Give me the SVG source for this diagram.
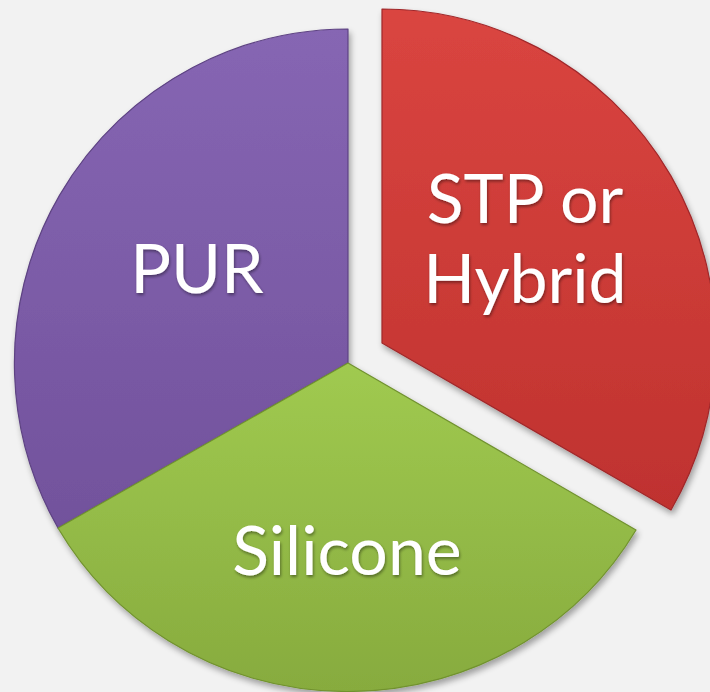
<svg xmlns="http://www.w3.org/2000/svg" width="710" height="692" viewBox="0 0 710 692">
<defs>
<linearGradient id="gp" x1="0" y1="0" x2="0" y2="1">
<stop offset="0" stop-color="#8666b3"/>
<stop offset="1" stop-color="#72529c"/>
</linearGradient>
<linearGradient id="gr" x1="0" y1="0" x2="0" y2="1">
<stop offset="0" stop-color="#da4540"/>
<stop offset="1" stop-color="#bf322f"/>
</linearGradient>
<linearGradient id="gg" x1="0" y1="0" x2="0" y2="1">
<stop offset="0" stop-color="#a0ca50"/>
<stop offset="1" stop-color="#87ab3e"/>
</linearGradient>
<filter id="sh" x="-10%" y="-10%" width="120%" height="120%">
<feGaussianBlur in="SourceAlpha" stdDeviation="3"/>
<feOffset dx="2" dy="4" result="b"/>
<feComponentTransfer><feFuncA type="linear" slope="0.35"/></feComponentTransfer>
<feMerge><feMergeNode/><feMergeNode in="SourceGraphic"/></feMerge>
</filter>
<filter id="ts" x="-10%" y="-10%" width="120%" height="130%">
<feGaussianBlur in="SourceAlpha" stdDeviation="1.5"/>
<feOffset dx="1" dy="2"/>
<feComponentTransfer><feFuncA type="linear" slope="0.4"/></feComponentTransfer>
<feMerge><feMergeNode/><feMergeNode in="SourceGraphic"/></feMerge>
</filter>
</defs>
<style>
.sl{stroke-width:1.2;stroke-linejoin:round}
.lb{font-family:Lato,"Open Sans","Liberation Sans",sans-serif;font-size:68px;fill:#ffffff;text-anchor:middle}
</style>
<rect width="710" height="692" fill="#f2f2f2"/>
<g id="pur" filter="url(#sh)">
<path class="sl" d="M348,363 L348,29 A334,334 0 0,0 58,528 Z" fill="url(#gp)" stroke="#5e4383"/>
<text class="lb" x="197" y="293" filter="url(#ts)">PUR</text>
</g>
<g id="silicone" filter="url(#sh)">
<path class="sl" d="M348,363 L58,528 A334,326 0 0,0 636,530 Z" fill="url(#gg)" stroke="#71922f"/>
<text class="lb" x="347" y="575" filter="url(#ts)">Silicone</text>
</g>
<g id="stp" filter="url(#sh)">
<path class="sl" d="M382,343 L382,9 A334,334 0 0,1 671,510 Z" fill="url(#gr)" stroke="#a0282a"/>
<text class="lb" x="525" y="223" filter="url(#ts)">STP or</text>
<text class="lb" x="525" y="303" filter="url(#ts)">Hybrid</text>
</g>
</svg>
